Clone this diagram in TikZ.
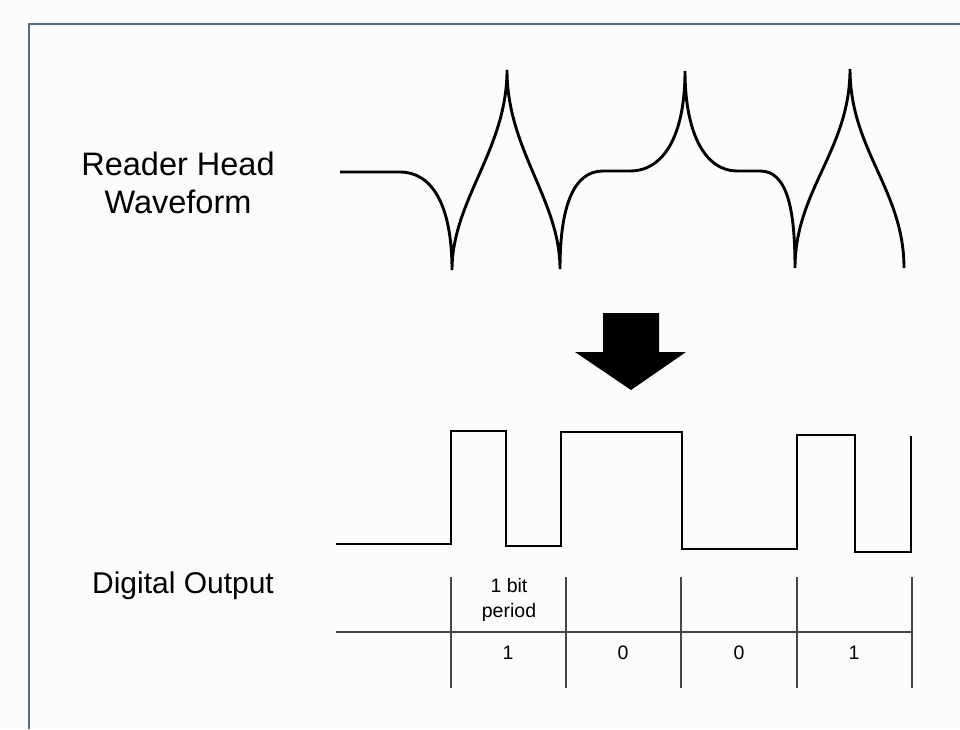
\documentclass[tikz,border=0pt]{standalone}
\usepackage{fontspec}
\setmainfont{Liberation Sans}
\usetikzlibrary{calc}
\definecolor{paper}{RGB}{252,252,252}
\definecolor{frame}{RGB}{92,107,135}
\definecolor{grid}{RGB}{70,70,70}

\begin{document}
\begin{tikzpicture} [x=1pt,y=-1pt]
\useasboundingbox[fill=paper] (0,0) rectangle (960,729);
\draw[frame,line width=2pt] (28.5,729)--(28.5,23.5)--(960,23.5);
% labels
\node[anchor=base,align=center,font=\fontsize{32.5}{38}\selectfont] (reader) at (178,213) {Reader Head\\Waveform};
\node[anchor=base,font=\fontsize{30}{34}\selectfont] (digital) at (183,593) {Digital Output};
% reader head waveform
\draw[black,line width=2.9pt,line cap=butt] (340,172)--(400,172)
 .. controls (432,172) and (452,205) .. (452,270)
 .. controls (452,200) and (507,150) .. (507,70)
 .. controls (507,150) and (560,200) .. (560,269)
 .. controls (560,205) and (574,171) .. (603,171)--(630,171)
 .. controls (664,171) and (685,135) .. (685,71)
 .. controls (685,135) and (706,171) .. (737,171)--(760,171)
 .. controls (786,171) and (795,205) .. (795,268)
 .. controls (795,190) and (850,150) .. (850,69)
 .. controls (850,150) and (904,190) .. (904,268);
% big arrow
\fill[black] (603,313)--(659,313)--(659,352)--(686,352)--(631,390)--(575,352)--(603,352)--cycle;
% digital output
\draw[black,line width=2.9pt,line join=miter] (336,544)--(451,544)--(451,431)--(506,431)--(506,546)--(561,546)--(561,432)--(682,432)--(682,549)--(797,549)--(797,435)--(855,435)--(855,552)--(911,552)--(911,436);
% bit table
\draw[grid,line width=1.1pt] (336,632)--(912,632);
\foreach \x in {451,566,681,797,912} {
 \draw[grid,line width=1.1pt] (\x,577)--(\x,688);
}
\node[anchor=base,align=center,font=\fontsize{19.5}{25}\selectfont] (bitperiod) at (509,617) {1 bit\\period};
\foreach \b/\x in {1/508,0/623,0/739,1/854} {
 \node[anchor=base,font=\fontsize{19.5}{22}\selectfont] (bit\x) at (\x,659) {\b};
}
\end{tikzpicture}
\end{document}
